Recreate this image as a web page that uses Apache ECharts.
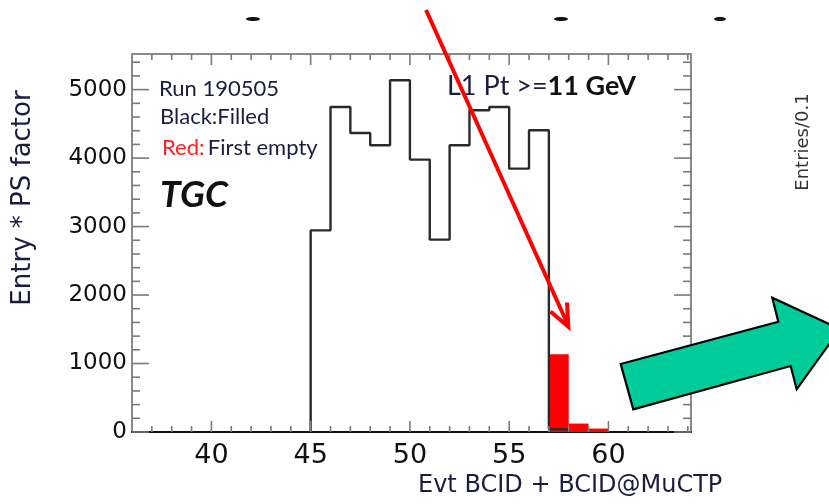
<!DOCTYPE html>
<html>
<head>
<meta charset="utf-8">
<script src="https://cdn.jsdelivr.net/npm/echarts@6/dist/echarts.min.js"></script>
<style>html,body{margin:0;padding:0;background:#fff;}#c{width:829px;height:504px;}</style>
</head>
<body>
<div id="c"></div>
<script>
// ---- data ----
const xMin = 36, xMax = 64.16, yMin = 0, yMax = 5520;
const binWidth = 1;
const blackBinLow = [45, 46, 47, 48, 49, 50, 51, 52, 53, 54, 55, 56, 57];
const blackValues = [2945, 4746, 4366, 4187, 5136, 3978, 2810, 4187, 4698, 4746, 3846, 4406, 40];
const redBinLow = [57, 58, 59];
const redValues = [1135, 123, 50];
const xTickLabels = [40, 45, 50, 55, 60];
const xMinorTicks = [37, 38, 39, 41, 42, 43, 44, 46, 47, 48, 49, 51, 52, 53, 54, 56, 57, 58, 59, 61, 62, 63, 64];
const yTickLabels = [0, 1000, 2000, 3000, 4000, 5000];
const yMinorTicks = [200, 400, 600, 800, 1200, 1400, 1600, 1800, 2200, 2400, 2600, 2800, 3200, 3400, 3600, 3800, 4200, 4400, 4600, 4800, 5200, 5400];

// ---- build step outline ----
const blackPts = [[blackBinLow[0], 0]];
blackBinLow.forEach((lo, i) => {
  blackPts.push([lo, blackValues[i]]);
  blackPts.push([lo + binWidth, blackValues[i]]);
});
blackPts.push([blackBinLow[blackBinLow.length - 1] + binWidth, 0]);

const redData = redBinLow.map((lo, i) => [lo, redValues[i], lo + binWidth]);

const tickColor = '#7a7a7a';
function xTicks(vals, len) {
  return {
    type: 'custom', silent: true, clip: false, z: 5,
    data: vals.map(v => [v, 0]),
    renderItem: (params, api) => {
      const p = api.coord([api.value(0), 0]);
      const cs = params.coordSys;
      const st = { stroke: tickColor, lineWidth: 1.6 };
      return { type: 'group', children: [
        { type: 'line', shape: { x1: p[0], y1: cs.y + cs.height, x2: p[0], y2: cs.y + cs.height - len }, style: st },
        { type: 'line', shape: { x1: p[0], y1: cs.y, x2: p[0], y2: cs.y + len }, style: st }
      ]};
    }
  };
}
function yTicks(vals, len) {
  return {
    type: 'custom', silent: true, clip: false, z: 5,
    data: vals.map(v => [xMin, v]),
    renderItem: (params, api) => {
      const p = api.coord([xMin, api.value(1)]);
      const cs = params.coordSys;
      const st = { stroke: tickColor, lineWidth: 1.6 };
      return { type: 'group', children: [
        { type: 'line', shape: { x1: cs.x, y1: p[1], x2: cs.x + len, y2: p[1] }, style: st },
        { type: 'line', shape: { x1: cs.x + cs.width, y1: p[1], x2: cs.x + cs.width - len, y2: p[1] }, style: st }
      ]};
    }
  };
}

const chart = echarts.init(document.getElementById('c'), null, { renderer: 'canvas' });
const navy = '#1c1c3e';
chart.setOption({
  animation: false,
  backgroundColor: '#ffffff',
  grid: { left: 132, right: 138, top: 54, bottom: 72, show: true, borderColor: '#8a8a8a', borderWidth: 2 },
  xAxis: {
    type: 'value', min: xMin, max: xMax, interval: 1,
    axisLine: { show: true, lineStyle: { color: '#111', width: 2 } },
    axisTick: { show: false }, splitLine: { show: false },
    axisLabel: {
      margin: 10, color: '#111', fontFamily: 'DejaVu Sans', fontSize: 27,
      formatter: v => (xTickLabels.indexOf(v) >= 0 ? String(v) : ''),
      showMinLabel: false, showMaxLabel: false
    }
  },
  yAxis: {
    type: 'value', min: yMin, max: yMax, interval: 1000,
    axisLine: { show: false }, axisTick: { show: false }, splitLine: { show: false },
    axisLabel: {
      margin: 5, color: '#111', fontFamily: 'DejaVu Sans', fontSize: 23,
      formatter: v => (yTickLabels.indexOf(v) >= 0 ? String(v) : ''),
      showMaxLabel: false
    }
  },
  series: [
    {
      type: 'custom', z: 2, clip: true, silent: true,
      data: redData,
      renderItem: (params, api) => {
        const a = api.coord([api.value(0), api.value(1)]);
        const b = api.coord([api.value(2), 0]);
        return { type: 'rect', shape: { x: a[0], y: a[1], width: b[0] - a[0], height: b[1] - a[1] }, style: { fill: '#ff0000' } };
      }
    },
    {
      type: 'line', z: 3, silent: true, symbol: 'none', data: blackPts,
      lineStyle: { color: '#2a2a2a', width: 2.4 }
    },
    xTicks(xTickLabels, 11), xTicks(xMinorTicks, 6),
    yTicks(yTickLabels, 17), yTicks(yMinorTicks, 8)
  ],
  graphic: [
    { type: 'text', x: 159, y: 89, style: { text: 'Run 190505', font: '22px Lato', fill: navy, verticalAlign: 'middle' } },
    { type: 'text', x: 160, y: 117, style: { text: 'Black:Filled', font: '22px Lato', fill: navy, verticalAlign: 'middle' } },
    { type: 'text', x: 162, y: 148, style: { text: '{r|Red:} {k|First empty}', verticalAlign: 'middle',
        rich: { r: { font: '22px Lato', fill: '#ff2020' }, k: { font: '22px Lato', fill: navy } } } },
    { type: 'text', x: 160, y: 195, style: { text: 'TGC', font: 'italic bold 37px Lato', fill: '#111', verticalAlign: 'middle' } },
    { type: 'text', x: 447, y: 86, style: { text: '{n|L1 Pt >=}{b|11 GeV}', verticalAlign: 'middle',
        rich: { n: { font: '27px Lato', fill: navy }, b: { font: 'bold 27px Lato', fill: '#111' } } } },
    { type: 'text', x: 23, y: 198, rotation: Math.PI / 2, style: { text: 'Entry * PS factor', font: '26px "DejaVu Sans"', fill: navy, align: 'center', verticalAlign: 'middle' } },
    { type: 'text', x: 418, y: 486, style: { text: 'Evt BCID + BCID@MuCTP', font: '24px "DejaVu Sans"', fill: navy, verticalAlign: 'middle' } },
    { type: 'text', x: 803, y: 142, rotation: Math.PI / 2, style: { text: 'Entries/0.1', font: '18px "DejaVu Sans"', fill: '#333', align: 'center', verticalAlign: 'middle' } },
    { type: 'ellipse', shape: { cx: 253, cy: 19, rx: 7, ry: 2 }, style: { fill: '#111' } },
    { type: 'ellipse', shape: { cx: 561, cy: 19, rx: 7, ry: 2 }, style: { fill: '#111' } },
    { type: 'ellipse', shape: { cx: 720, cy: 19, rx: 6, ry: 2 }, style: { fill: '#111' } },
    { type: 'line', z: 20, shape: { x1: 426, y1: 10, x2: 567.5, y2: 324 }, style: { stroke: '#ff0000', lineWidth: 4 } },
    { type: 'polyline', z: 20, shape: { points: [[550.5, 311.5], [568.3, 326.7], [567, 302.5]] }, style: { stroke: '#ff0000', lineWidth: 4, fill: null, lineJoin: 'miter' } },
    { type: 'polygon', z: 20, shape: { points: [[620.7, 364], [778.3, 321.7], [772.3, 297.7], [840, 329], [796.7, 389.3], [790.7, 366], [633.3, 409.3]] },
      style: { fill: '#00cc99', stroke: '#000', lineWidth: 2.2, lineJoin: 'miter' } }
  ]
});
</script>
</body>
</html>
